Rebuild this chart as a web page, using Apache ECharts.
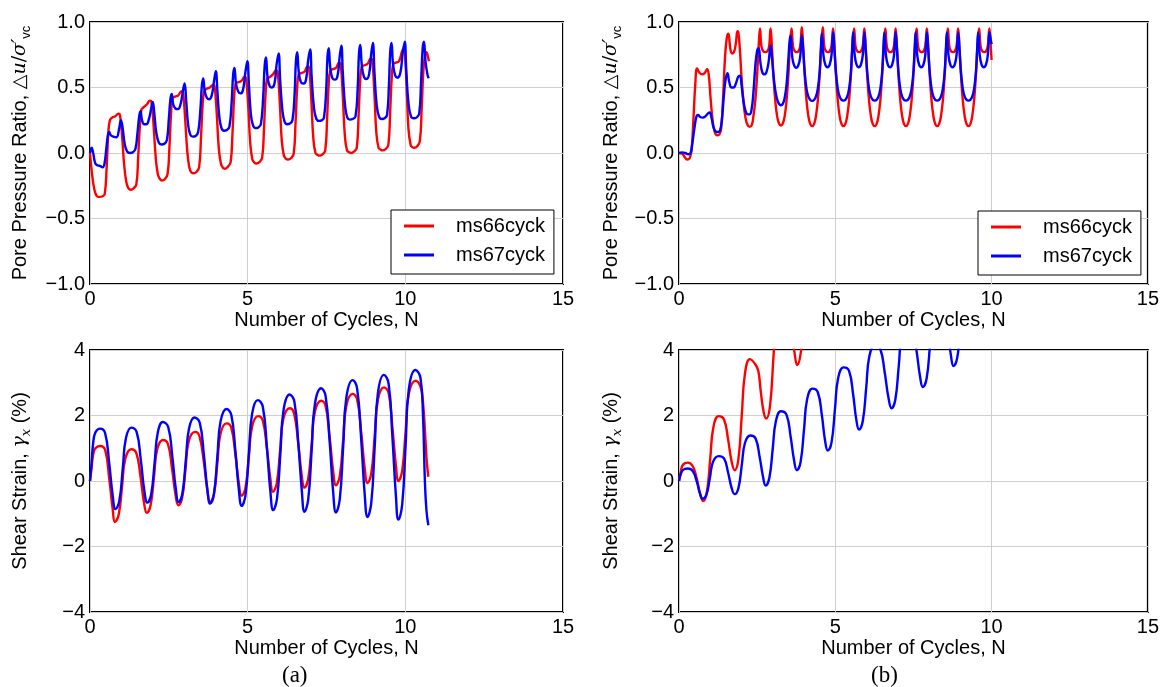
<!DOCTYPE html>
<html><head><meta charset="utf-8">
<script src="https://cdn.jsdelivr.net/npm/echarts@6/dist/echarts.min.js"></script>
<style>html,body{margin:0;padding:0;background:#fff}#c{width:1162px;height:687px}</style>
</head><body><div id="c"></div>
<script>
// ---- tick labels / categories ----
const xTicks = [0, 5, 10, 15];
const pprTicks = [-1, -0.5, 0, 0.5, 1];
const strainTicks = [-4, -2, 0, 2, 4];
const seriesNames = ['ms66cyck', 'ms67cyck'];
const panelLabels = ['(a)', '(b)'];

// ---- (a) pore pressure ratio ----
const pprA66 = [[0,0],[0.06,-0.15],[0.14,-0.28],[0.22,-0.33],[0.3,-0.335],[0.4,-0.33],[0.47,-0.31],
[0.53,-0.1],[0.58,0.15],[0.63,0.25],[0.7,0.27],[0.8,0.28],[0.9,0.3],[0.95,0.29],
[1.02,0.12],[1.08,-0.08],[1.15,-0.22],[1.22,-0.27],[1.3,-0.28],[1.38,-0.27],[1.47,-0.24],
[1.53,-0.02],[1.58,0.2],[1.63,0.33],[1.7,0.35],[1.8,0.37],[1.9,0.4],[1.95,0.39],
[2.02,0.2],[2.08,-0.02],[2.15,-0.16],[2.22,-0.2],[2.28,-0.21],[2.37,-0.2],[2.46,-0.16],
[2.52,0.05],[2.57,0.3],[2.62,0.42],[2.7,0.43],[2.8,0.44],[2.9,0.47],[2.95,0.46],
[3.02,0.25],[3.08,0.03],[3.15,-0.11],[3.22,-0.15],[3.28,-0.155],[3.37,-0.145],[3.46,-0.11],
[3.52,0.12],[3.57,0.36],[3.62,0.47],[3.7,0.49],[3.8,0.5],[3.9,0.52],[3.95,0.51],
[4.02,0.3],[4.08,0.05],[4.15,-0.08],[4.22,-0.115],[4.28,-0.12],[4.37,-0.105],[4.46,-0.07],
[4.52,0.16],[4.57,0.42],[4.62,0.53],[4.7,0.54],[4.8,0.55],[4.9,0.58],[4.95,0.57],
[5.02,0.35],[5.08,0.08],[5.15,-0.05],[5.22,-0.075],[5.28,-0.08],[5.37,-0.07],[5.46,-0.035],
[5.52,0.2],[5.57,0.46],[5.62,0.57],[5.7,0.58],[5.8,0.6],[5.9,0.63],[5.95,0.62],
[6.02,0.38],[6.08,0.1],[6.15,-0.02],[6.22,-0.045],[6.28,-0.05],[6.37,-0.04],[6.46,-0.005],
[6.52,0.24],[6.57,0.5],[6.62,0.6],[6.7,0.61],[6.8,0.62],[6.9,0.66],[6.95,0.65],
[7.02,0.4],[7.08,0.12],[7.15,0.0],[7.22,-0.015],[7.28,-0.02],[7.37,-0.01],[7.46,0.02],
[7.52,0.27],[7.57,0.53],[7.62,0.63],[7.7,0.64],[7.8,0.65],[7.9,0.69],[7.95,0.68],
[8.02,0.42],[8.08,0.14],[8.15,0.02],[8.22,0.005],[8.28,0.0],[8.37,0.01],[8.46,0.04],
[8.52,0.3],[8.57,0.56],[8.62,0.66],[8.7,0.67],[8.8,0.68],[8.9,0.72],[8.95,0.71],
[9.02,0.45],[9.08,0.16],[9.15,0.04],[9.22,0.025],[9.28,0.02],[9.37,0.03],[9.46,0.06],
[9.52,0.32],[9.57,0.58],[9.62,0.68],[9.7,0.69],[9.8,0.7],[9.9,0.78],[9.95,0.8],[9.99,0.75],
[10.05,0.45],[10.1,0.18],[10.17,0.06],[10.22,0.045],[10.28,0.04],[10.37,0.05],[10.46,0.09],
[10.52,0.35],[10.57,0.62],[10.62,0.74],[10.67,0.77],[10.72,0.73],[10.75,0.7]];

const pprA67 = [[0,0],[0.05,0.04],[0.1,0.0],[0.17,-0.08],[0.25,-0.095],[0.33,-0.1],[0.4,-0.11],[0.46,-0.08],
[0.52,0.04],[0.57,0.14],[0.61,0.16],[0.66,0.135],[0.74,0.125],[0.84,0.12],[0.92,0.18],[0.98,0.25],[1.03,0.2],
[1.1,0.07],[1.18,0.01],[1.27,0.0],[1.36,0.005],[1.44,0.03],
[1.5,0.14],[1.56,0.28],[1.6,0.32],[1.65,0.25],[1.72,0.22],[1.79,0.22],[1.87,0.26],[1.94,0.34],[1.99,0.39],[2.04,0.3],
[2.1,0.16],[2.18,0.08],[2.27,0.065],[2.36,0.07],[2.44,0.1],
[2.5,0.26],[2.55,0.41],[2.59,0.45],[2.64,0.37],[2.71,0.34],[2.79,0.335],[2.87,0.37],[2.95,0.48],[3.0,0.53],[3.05,0.4],
[3.11,0.22],[3.18,0.14],[3.26,0.125],[3.35,0.13],[3.43,0.16],
[3.5,0.33],[3.55,0.52],[3.59,0.57],[3.64,0.47],[3.71,0.42],[3.78,0.41],[3.86,0.44],[3.94,0.56],[3.99,0.625],[4.04,0.47],
[4.1,0.28],[4.17,0.19],[4.25,0.17],[4.34,0.175],[4.42,0.2],
[4.49,0.38],[4.54,0.6],[4.58,0.65],[4.63,0.53],[4.7,0.47],[4.77,0.455],[4.85,0.48],[4.93,0.62],[4.99,0.7],[5.04,0.52],
[5.1,0.3],[5.17,0.21],[5.25,0.19],[5.34,0.195],[5.42,0.22],
[5.49,0.42],[5.54,0.67],[5.58,0.73],[5.63,0.58],[5.7,0.51],[5.77,0.5],[5.85,0.53],[5.92,0.68],[5.98,0.76],[6.03,0.56],
[6.1,0.33],[6.17,0.24],[6.25,0.22],[6.34,0.225],[6.42,0.25],
[6.49,0.46],[6.53,0.7],[6.57,0.77],[6.62,0.62],[6.69,0.54],[6.77,0.53],[6.85,0.56],[6.92,0.71],[6.98,0.79],[7.03,0.58],
[7.1,0.35],[7.18,0.26],[7.27,0.245],[7.35,0.25],[7.42,0.27],
[7.49,0.48],[7.53,0.73],[7.57,0.8],[7.62,0.65],[7.69,0.57],[7.77,0.56],[7.85,0.59],[7.92,0.74],[7.97,0.82],[8.02,0.6],
[8.09,0.36],[8.16,0.27],[8.24,0.255],[8.33,0.26],[8.42,0.28],
[8.49,0.5],[8.53,0.76],[8.57,0.825],[8.62,0.67],[8.69,0.58],[8.77,0.565],[8.85,0.6],[8.92,0.76],[8.97,0.84],[9.02,0.62],
[9.09,0.37],[9.17,0.275],[9.26,0.26],[9.34,0.265],[9.42,0.29],
[9.48,0.52],[9.52,0.77],[9.56,0.84],[9.61,0.68],[9.68,0.59],[9.75,0.575],[9.84,0.61],[9.92,0.77],[9.98,0.85],[10.03,0.63],
[10.1,0.38],[10.18,0.28],[10.27,0.265],[10.35,0.27],[10.44,0.3],
[10.5,0.55],[10.55,0.8],[10.59,0.85],[10.64,0.7],[10.7,0.6],[10.74,0.57]];

// ---- (b) pore pressure ratio ----
const pprB66 = [[0,0],[0.1,-0.005],[0.18,-0.03],[0.26,-0.05],[0.34,-0.04],[0.4,0.02],[0.46,0.25],[0.52,0.52],[0.58,0.645],
[0.66,0.61],[0.74,0.6],[0.82,0.61],[0.9,0.64],[0.95,0.6],[1.01,0.42],[1.08,0.24],[1.15,0.155],[1.22,0.135],[1.29,0.14],
[1.35,0.19],[1.41,0.42],[1.47,0.72],[1.53,0.88],[1.58,0.91],[1.64,0.8],[1.7,0.76],[1.76,0.77],[1.82,0.84],[1.87,0.93],[1.9,0.92],
[1.95,0.78],[2.0,0.58],[2.06,0.4],[2.12,0.28],[2.19,0.215],[2.26,0.2],[2.33,0.215],[2.38,0.28],[2.44,0.4],[2.5,0.6],[2.55,0.82],
[2.59,0.95],[2.64,0.81],[2.7,0.775],[2.76,0.77],[2.82,0.775],[2.88,0.81],[2.93,0.95],
[2.97,0.82],[3.02,0.6],[3.08,0.4],[3.14,0.28],[3.2,0.225],[3.26,0.21],[3.32,0.225],[3.38,0.28],[3.44,0.4],[3.5,0.6],[3.55,0.82],[3.6,0.95],[3.65,0.81],[3.71,0.775],[3.77,0.77],[3.83,0.78],[3.88,0.82],[3.93,0.96],
[3.97,0.82],[4.02,0.6],[4.08,0.4],[4.14,0.28],[4.2,0.22],[4.26,0.205],[4.32,0.22],[4.38,0.28],[4.44,0.4],[4.5,0.6],[4.55,0.82],[4.6,0.96],[4.65,0.81],[4.71,0.775],[4.77,0.77],[4.83,0.78],[4.88,0.82],[4.93,0.95],
[4.97,0.82],[5.02,0.6],[5.08,0.4],[5.14,0.28],[5.2,0.22],[5.26,0.205],[5.32,0.22],[5.38,0.28],[5.44,0.4],[5.5,0.6],[5.55,0.82],[5.6,0.95],[5.65,0.81],[5.71,0.775],[5.77,0.77],[5.83,0.78],[5.88,0.82],[5.93,0.95],
[5.97,0.82],[6.02,0.6],[6.08,0.4],[6.14,0.28],[6.2,0.22],[6.26,0.205],[6.32,0.22],[6.38,0.28],[6.44,0.4],[6.5,0.6],[6.55,0.82],[6.6,0.95],[6.65,0.81],[6.71,0.775],[6.77,0.77],[6.83,0.78],[6.88,0.82],[6.93,0.95],
[6.97,0.82],[7.02,0.6],[7.08,0.4],[7.14,0.28],[7.2,0.22],[7.26,0.205],[7.32,0.22],[7.38,0.28],[7.44,0.4],[7.5,0.6],[7.55,0.82],[7.6,0.95],[7.65,0.81],[7.71,0.775],[7.77,0.77],[7.83,0.78],[7.88,0.82],[7.93,0.95],
[7.97,0.82],[8.02,0.6],[8.08,0.4],[8.14,0.28],[8.2,0.22],[8.26,0.205],[8.32,0.22],[8.38,0.28],[8.44,0.4],[8.5,0.6],[8.55,0.82],[8.6,0.95],[8.65,0.81],[8.71,0.775],[8.77,0.77],[8.83,0.78],[8.88,0.82],[8.93,0.95],
[8.97,0.82],[9.02,0.6],[9.08,0.4],[9.14,0.28],[9.2,0.22],[9.26,0.205],[9.32,0.22],[9.38,0.28],[9.44,0.4],[9.5,0.6],[9.55,0.82],[9.6,0.95],[9.65,0.81],[9.71,0.775],[9.77,0.77],[9.83,0.78],[9.88,0.82],[9.93,0.95],
[9.97,0.82],[10.0,0.71]];

const pprB67 = [[0,0],[0.1,0.005],[0.2,0.0],[0.3,-0.01],[0.37,0.0],[0.43,0.08],[0.5,0.2],[0.56,0.28],[0.61,0.29],[0.68,0.275],
[0.76,0.27],[0.84,0.28],[0.92,0.3],[0.98,0.31],[1.04,0.27],[1.1,0.2],[1.17,0.165],[1.25,0.16],[1.31,0.17],[1.37,0.25],
[1.43,0.42],[1.49,0.56],[1.55,0.61],[1.61,0.54],[1.68,0.5],[1.75,0.5],[1.82,0.53],[1.89,0.58],[1.95,0.59],[2.0,0.52],
[2.06,0.4],[2.13,0.32],[2.2,0.295],[2.26,0.295],[2.32,0.33],[2.38,0.46],[2.44,0.66],[2.5,0.78],[2.55,0.8],[2.6,0.7],
[2.66,0.62],[2.73,0.6],[2.8,0.62],[2.87,0.7],[2.93,0.82],[2.97,0.74],[3.02,0.6],[3.08,0.48],[3.14,0.41],[3.2,0.375],
[3.26,0.365],[3.32,0.375],[3.38,0.42],[3.44,0.52],[3.5,0.72],[3.54,0.86],[3.57,0.895],[3.62,0.74],[3.68,0.67],[3.75,0.65],
[3.82,0.67],[3.88,0.74],[3.93,0.9],
[3.97,0.8],[4.02,0.62],[4.08,0.49],[4.14,0.43],[4.2,0.405],[4.26,0.398],[4.32,0.405],[4.38,0.43],[4.44,0.49],[4.5,0.62],[4.54,0.8],[4.57,0.91],[4.62,0.75],[4.68,0.675],[4.75,0.655],[4.82,0.675],[4.88,0.75],[4.93,0.92],
[4.97,0.8],[5.02,0.62],[5.08,0.49],[5.14,0.43],[5.2,0.405],[5.26,0.4],[5.32,0.405],[5.38,0.43],[5.44,0.49],[5.5,0.62],[5.54,0.8],[5.57,0.92],[5.62,0.75],[5.68,0.675],[5.75,0.655],[5.82,0.675],[5.88,0.75],[5.93,0.92],
[5.97,0.8],[6.02,0.62],[6.08,0.49],[6.14,0.43],[6.2,0.405],[6.26,0.4],[6.32,0.405],[6.38,0.43],[6.44,0.49],[6.5,0.62],[6.54,0.8],[6.57,0.92],[6.62,0.75],[6.68,0.675],[6.75,0.655],[6.82,0.675],[6.88,0.75],[6.93,0.92],
[6.97,0.8],[7.02,0.62],[7.08,0.49],[7.14,0.43],[7.2,0.405],[7.26,0.4],[7.32,0.405],[7.38,0.43],[7.44,0.49],[7.5,0.62],[7.54,0.8],[7.57,0.92],[7.62,0.75],[7.68,0.675],[7.75,0.655],[7.82,0.675],[7.88,0.75],[7.93,0.92],
[7.97,0.8],[8.02,0.62],[8.08,0.49],[8.14,0.43],[8.2,0.405],[8.26,0.4],[8.32,0.405],[8.38,0.43],[8.44,0.49],[8.5,0.62],[8.54,0.8],[8.57,0.92],[8.62,0.75],[8.68,0.675],[8.75,0.655],[8.82,0.675],[8.88,0.75],[8.93,0.92],
[8.97,0.8],[9.02,0.62],[9.08,0.49],[9.14,0.43],[9.2,0.405],[9.26,0.4],[9.32,0.405],[9.38,0.43],[9.44,0.49],[9.5,0.62],[9.54,0.8],[9.57,0.92],[9.62,0.75],[9.68,0.675],[9.75,0.655],[9.82,0.675],[9.88,0.75],[9.93,0.92],
[9.97,0.87],[10.0,0.83]];

// ---- (a) shear strain ----
const strainA66 = [[0,0],[0.05,0.4],[0.1,0.8],[0.17,1.0],[0.32,1.07],[0.48,0.95],[0.61,0.07],[0.72,-0.86],[0.79,-1.25],
[0.91,-1.03],[1.02,-0.14],[1.12,0.68],[1.31,0.97],[1.47,0.85],[1.6,0.14],[1.71,-0.64],[1.8,-0.97],
[1.92,-0.75],[2.03,0.14],[2.13,0.96],[2.31,1.25],[2.47,1.13],[2.6,0.39],[2.71,-0.4],[2.8,-0.74],
[2.92,-0.52],[3.03,0.38],[3.13,1.21],[3.33,1.5],[3.47,1.37],[3.61,0.58],[3.72,-0.28],[3.81,-0.64],
[3.93,-0.4],[4.04,0.56],[4.14,1.45],[4.33,1.76],[4.48,1.63],[4.61,0.81],[4.72,-0.07],[4.81,-0.45],
[4.93,-0.21],[5.04,0.77],[5.14,1.66],[5.33,1.98],[5.48,1.84],[5.61,0.99],[5.72,0.06],[5.8,-0.33],
[5.92,-0.08],[6.03,0.95],[6.13,1.89],[6.33,2.22],[6.47,2.07],[6.6,1.18],[6.71,0.21],[6.8,-0.2],
[6.92,0.07],[7.03,1.13],[7.13,2.11],[7.33,2.45],[7.47,2.3],[7.6,1.34],[7.71,0.31],[7.8,-0.13],
[7.92,0.15],[8.03,1.27],[8.13,2.3],[8.33,2.66],[8.47,2.5],[8.6,1.49],[8.71,0.4],[8.8,-0.06],
[8.92,0.23],[9.03,1.4],[9.13,2.48],[9.32,2.86],[9.47,2.69],[9.59,1.63],[9.7,0.49],[9.78,0.0],
[9.9,0.31],[10.01,1.53],[10.11,2.66],[10.32,3.06],[10.48,2.88],[10.56,2.4],[10.63,1.4],[10.68,0.6],[10.73,0.13]];

const strainA67 = [[0,0],[0.05,0.55],[0.1,1.15],[0.17,1.48],[0.32,1.6],[0.48,1.46],[0.61,0.54],[0.72,-0.44],[0.81,-0.86],
[0.93,-0.61],[1.04,0.39],[1.14,1.31],[1.31,1.63],[1.48,1.49],[1.61,0.65],[1.72,-0.27],[1.82,-0.66],
[1.94,-0.41],[2.05,0.57],[2.15,1.48],[2.31,1.8],[2.48,1.65],[2.61,0.75],[2.72,-0.23],[2.81,-0.64],
[2.93,-0.38],[3.04,0.65],[3.14,1.6],[3.31,1.94],[3.48,1.78],[3.61,0.81],[3.72,-0.24],[3.81,-0.69],
[3.93,-0.4],[4.04,0.76],[4.14,1.82],[4.33,2.2],[4.48,2.02],[4.61,0.93],[4.72,-0.26],[4.81,-0.76],
[4.93,-0.44],[5.04,0.86],[5.14,2.05],[5.32,2.47],[5.48,2.27],[5.61,1.03],[5.72,-0.32],[5.81,-0.89],
[5.93,-0.54],[6.04,0.88],[6.14,2.18],[6.33,2.64],[6.48,2.43],[6.61,1.1],[6.72,-0.33],[6.8,-0.94],
[6.92,-0.56],[7.03,0.95],[7.13,2.34],[7.33,2.83],[7.47,2.6],[7.6,1.2],[7.71,-0.32],[7.8,-0.96],
[7.92,-0.56],[8.03,1.06],[8.13,2.55],[8.33,3.08],[8.47,2.83],[8.6,1.28],[8.71,-0.39],[8.8,-1.1],
[8.92,-0.67],[9.03,1.07],[9.13,2.68],[9.32,3.24],[9.47,2.97],[9.59,1.34],[9.7,-0.43],[9.78,-1.18],
[9.9,-0.72],[10.01,1.11],[10.11,2.8],[10.32,3.39],[10.48,3.15],[10.56,2.0],[10.62,0.0],[10.67,-0.9],[10.73,-1.35]];

// ---- (b) shear strain (values above 4 run off the top of the axes) ----
const strainB66 = [[0,0],[0.06,0.3],[0.13,0.5],[0.28,0.56],[0.44,0.45],[0.57,0.06],[0.68,-0.41],[0.77,-0.61],
[0.89,-0.35],[1.0,0.69],[1.1,1.64],[1.27,1.98],[1.44,1.88],[1.57,1.27],[1.68,0.61],[1.78,0.33],
[1.9,0.67],[2.01,2.03],[2.11,3.28],[2.27,3.72],[2.45,3.55],[2.54,3.35],[2.62,2.7],[2.71,2.1],[2.79,1.91],
[2.91,2.28],[3.02,3.76],[3.12,5.12],[3.29,5.6],[3.46,5.48],[3.59,4.72],[3.7,3.89],[3.78,3.54],
[3.9,3.95],[4.01,5.3]];

const strainB67 = [[0,0],[0.06,0.22],[0.13,0.34],[0.28,0.38],[0.44,0.3],[0.57,-0.02],[0.67,-0.38],[0.76,-0.54],
[0.88,-0.41],[0.99,0.11],[1.09,0.59],[1.27,0.76],[1.44,0.69],[1.57,0.26],[1.68,-0.2],[1.78,-0.4],
[1.9,-0.22],[2.01,0.5],[2.11,1.16],[2.28,1.39],[2.45,1.3],[2.58,0.73],[2.69,0.12],[2.77,-0.14],
[2.89,0.09],[3.0,1.0],[3.1,1.83],[3.26,2.13],[3.44,2.02],[3.57,1.36],[3.68,0.64],[3.77,0.33],
[3.89,0.58],[4.0,1.58],[4.1,2.5],[4.27,2.82],[4.44,2.71],[4.57,2.01],[4.67,1.25],[4.76,0.93],
[4.88,1.18],[4.99,2.2],[5.09,3.14],[5.27,3.47],[5.44,3.36],[5.57,2.65],[5.67,1.89],[5.76,1.57],
[5.88,1.83],[5.99,2.86],[6.09,3.81],[6.27,4.15],[6.44,4.03],[6.58,3.32],[6.7,2.55],[6.8,2.22],
[6.92,2.48],[7.03,3.51],[7.13,4.46],[7.3,4.8],[7.47,4.68],[7.6,3.97],[7.71,3.2],[7.8,2.87],
[7.92,3.12],[8.03,4.14],[8.13,5.07],[8.3,5.4],[8.47,5.29],[8.6,4.59],[8.7,3.83],[8.78,3.51],
[8.9,3.76],[9.01,4.76],[9.1,5.6]];

// ---------------- chart ----------------
const FONT = 'Liberation Sans';
const RED = '#ff0000', BLUE = '#0000ff';
const grids = [
  {left: 90, top: 22, width: 473, height: 262},
  {left: 679, top: 22, width: 473, height: 262},
  {left: 90, top: 350, width: 473, height: 262},
  {left: 679, top: 350, width: 473, height: 262}
];
const minus = s => s.replace('-', '\u2212');
const pprName = 'Pore Pressure Ratio, {m|\u25B3}{i|u}{m|/}{i|\u03C3\u2032}{s|vc}';
const strainName = 'Shear Strain, {i|\u03B3}{is|x} (%)';
const richStyles = {
  m: {fontFamily: 'DejaVu Serif', fontSize: 19, color: '#000', lineHeight: 26},
  i: {fontFamily: 'DejaVu Serif', fontStyle: 'italic', fontSize: 19, color: '#000', lineHeight: 26},
  s: {fontFamily: FONT, fontSize: 13, color: '#000', lineHeight: 15, verticalAlign: 'bottom'},
  is: {fontFamily: 'DejaVu Serif', fontStyle: 'italic', fontSize: 13, color: '#000', lineHeight: 15, verticalAlign: 'bottom'}
};

const xAxes = grids.map((g, i) => ({
  type: 'value', gridIndex: i,
  min: xTicks[0], max: xTicks[xTicks.length - 1], interval: xTicks[1] - xTicks[0],
  name: 'Number of Cycles, N', nameLocation: 'middle', nameGap: 26,
  nameTextStyle: {fontFamily: FONT, fontSize: 20, color: '#000'},
  axisLine: {show: false}, axisTick: {show: false},
  axisLabel: {fontFamily: FONT, fontSize: 20, color: '#000', margin: 5},
  splitLine: {show: true, lineStyle: {color: '#cfcfcf', width: 1}}
}));
const yAxes = grids.map((g, i) => {
  const ticks = i < 2 ? pprTicks : strainTicks;
  return {
    type: 'value', gridIndex: i,
    min: ticks[0], max: ticks[ticks.length - 1], interval: ticks[1] - ticks[0],
    name: i < 2 ? pprName : strainName,
    nameLocation: 'middle', nameGap: i % 2 === 0 ? 57 : 55,
    nameTextStyle: {fontFamily: FONT, fontSize: 20, color: '#000', lineHeight: 26, rich: richStyles},
    axisLine: {show: false}, axisTick: {show: false},
    axisLabel: {fontFamily: FONT, fontSize: 20, color: '#000', margin: 5,
      formatter: v => minus(i < 2 ? v.toFixed(1) : String(v))},
    splitLine: {show: true, lineStyle: {color: '#cfcfcf', width: 1}}
  };
});

const mk = (name, data, color, idx) => ({
  type: 'line', name, data, xAxisIndex: idx, yAxisIndex: idx,
  showSymbol: false, symbol: 'none', smooth: 0.45, clip: true, silent: true,
  lineStyle: {color, width: 2.4}, itemStyle: {color}
});

const legendBase = {
  orient: 'vertical', data: seriesNames, icon: 'rect', itemWidth: 30, itemHeight: 3, itemGap: 9,
  padding: [6, 9, 9, 13], borderColor: '#000', borderWidth: 1, backgroundColor: '#fff',
  selectedMode: false,
  textStyle: {fontFamily: FONT, fontSize: 20, color: '#000', padding: [0, 0, 0, 17]}
};

const option = {
  animation: false,
  backgroundColor: '#fff',
  grid: grids.map(g => Object.assign({show: true, borderColor: '#000', borderWidth: 2, backgroundColor: 'transparent'}, g)),
  xAxis: xAxes,
  yAxis: yAxes,
  legend: [
    Object.assign({left: 391, top: 210}, legendBase),
    Object.assign({left: 978, top: 211}, legendBase)
  ],
  series: [
    mk(seriesNames[0], pprA66, RED, 0), mk(seriesNames[1], pprA67, BLUE, 0),
    mk(seriesNames[0], pprB66, RED, 1), mk(seriesNames[1], pprB67, BLUE, 1),
    mk(seriesNames[0], strainA66, RED, 2), mk(seriesNames[1], strainA67, BLUE, 2),
    mk(seriesNames[0], strainB66, RED, 3), mk(seriesNames[1], strainB67, BLUE, 3)
  ],
  graphic: [
    {type: 'text', left: 282, top: 664, style: {text: panelLabels[0], font: '23px "Liberation Serif"', fill: '#000'}},
    {type: 'text', left: 871, top: 664, style: {text: panelLabels[1], font: '23px "Liberation Serif"', fill: '#000'}}
  ]
};
const chart = echarts.init(document.getElementById('c'));
chart.setOption(option);
</script></body></html>
